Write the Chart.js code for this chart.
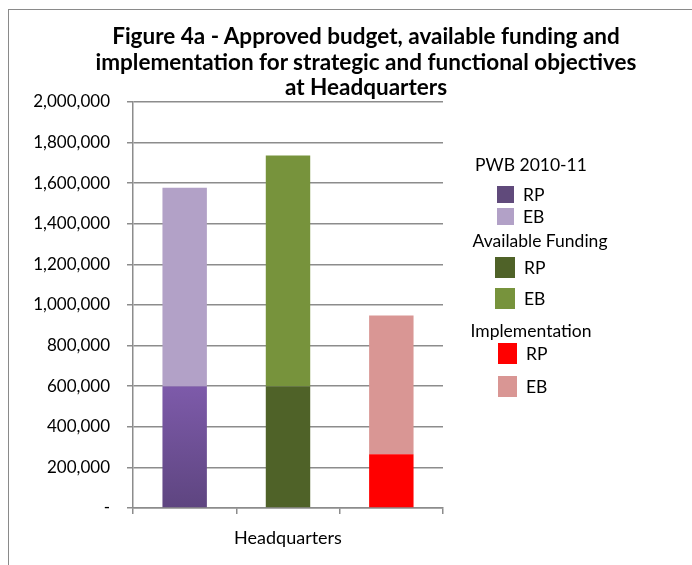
<!DOCTYPE html>
<html>
<head>
<meta charset="utf-8">
<script src="https://cdn.jsdelivr.net/npm/chart.js@4.4.0/dist/chart.umd.min.js"></script>
<style>
  html, body { margin: 0; padding: 0; background: #fff; }
  #wrap { position: relative; width: 692px; height: 565px; overflow: hidden; font-family: Lato, "Open Sans", sans-serif; color: #000; }
  #frame { position: absolute; left: 8px; top: 9px; width: 760px; height: 640px; border: 1px solid #8a8a8a; box-sizing: border-box; }
  #title { position: absolute; left: 66px; width: 600px; top: 23px; text-align: center; font-weight: bold; font-size: 22.5px; line-height: 25.5px; }
  canvas { position: absolute; left: 0; top: 0; }
  .lg { position: absolute; font-size: 17.5px; white-space: nowrap; }
  .sw { position: absolute; }
</style>
</head>
<body>
<div id="wrap">
  <div id="frame"></div>
  <canvas id="chart" width="692" height="565"></canvas>
  <div id="title">Figure 4a - Approved budget, available funding and<br>implementation for strategic and functional objectives<br>at Headquarters</div>
  <div id="legend"></div>
</div>
<script>
// data
const groups = ['PWB 2010-11', 'Available Funding', 'Implementation'];
const seriesNames = ['RP', 'EB'];
const rpValues = [600000, 600000, 265000];
const ebValues = [978000, 1136000, 683000];
const axisTitle = 'Headquarters';

// colours per group (RP, EB)
const rpColors = ['#604a7b', '#4f6228', '#ff0000'];
const ebColors = ['#b2a1c7', '#77933c', '#d99694'];

function rpFill(ctx) {
  const area = ctx.chart.chartArea;
  if (ctx.dataIndex === 0 && area) {
    const g = ctx.chart.ctx.createLinearGradient(0, area.bottom, 0, area.bottom - 125);
    g.addColorStop(0, '#5e4580');
    g.addColorStop(1, '#7e5bab');
    return g;
  }
  return rpColors[ctx.dataIndex];
}

const tickFont = { family: 'Lato, "Open Sans", sans-serif', size: 17 };
const titleFont = { family: 'Lato, "Open Sans", sans-serif', size: 18 };

new Chart(document.getElementById('chart'), {
  type: 'bar',
  data: {
    labels: groups,
    datasets: [
      { label: seriesNames[0], data: rpValues, backgroundColor: rpFill, borderWidth: 0,
        categoryPercentage: 1, barPercentage: 0.43 },
      { label: seriesNames[1], data: ebValues, backgroundColor: ebColors, borderWidth: 0,
        categoryPercentage: 1, barPercentage: 0.43 }
    ]
  },
  options: {
    responsive: false,
    animation: false,
    layout: { padding: { left: 0, top: 102, right: 249, bottom: 12 } },
    plugins: { legend: { display: false }, tooltip: { enabled: false } },
    scales: {
      x: {
        stacked: true,
        grid: { offset: true, drawOnChartArea: false, drawTicks: true, tickLength: 6, color: '#8c8c8c', lineWidth: 1.5 },
        border: { color: '#8c8c8c', width: 1.5 },
        ticks: { callback: () => '', font: tickFont },
        title: { display: true, text: axisTitle, color: '#000', font: titleFont, padding: { top: 0 } },
        afterFit: s => { s.height = 45; }
      },
      y: {
        stacked: true,
        min: 0, max: 2000000,
        grid: { color: '#8c8c8c', lineWidth: 1.5, tickLength: 6 },
        border: { color: '#8c8c8c', width: 1.5 },
        ticks: {
          stepSize: 200000, color: '#000', font: tickFont, padding: 17,
          callback: v => v === 0 ? '-' : v.toLocaleString('en-US')
        },
        afterFit: s => { s.width = 133; }
      }
    }
  }
});

// grouped legend (layout positions only)
const legend = document.getElementById('legend');
const headerTops = [154, 230, 320];
const headerCenters = [531, 540, 531];
const swatchTops = [[186, 208], [257, 288], [343, 376]];
const swatchBox = [[497, 17, 17], [495, 20, 21], [498, 19, 21]];
groups.forEach((g, i) => {
  const h = document.createElement('div');
  h.className = 'lg';
  h.textContent = g;
  h.style.top = headerTops[i] + 'px';
  h.style.left = headerCenters[i] + 'px';
  h.style.transform = 'translateX(-50%)';
  legend.appendChild(h);
  seriesNames.forEach((s, j) => {
    const [x, w, hh] = swatchBox[i];
    const sw = document.createElement('div');
    sw.className = 'sw';
    sw.style.left = x + 'px';
    sw.style.top = swatchTops[i][j] + 'px';
    sw.style.width = w + 'px';
    sw.style.height = hh + 'px';
    sw.style.background = j === 0 ? rpColors[i] : ebColors[i];
    legend.appendChild(sw);
    const t = document.createElement('div');
    t.className = 'lg';
    t.textContent = s;
    t.style.left = (x + w + 9) + 'px';
    t.style.top = (swatchTops[i][j] + hh / 2 - 11) + 'px';
    legend.appendChild(t);
  });
});
</script>
</body>
</html>
